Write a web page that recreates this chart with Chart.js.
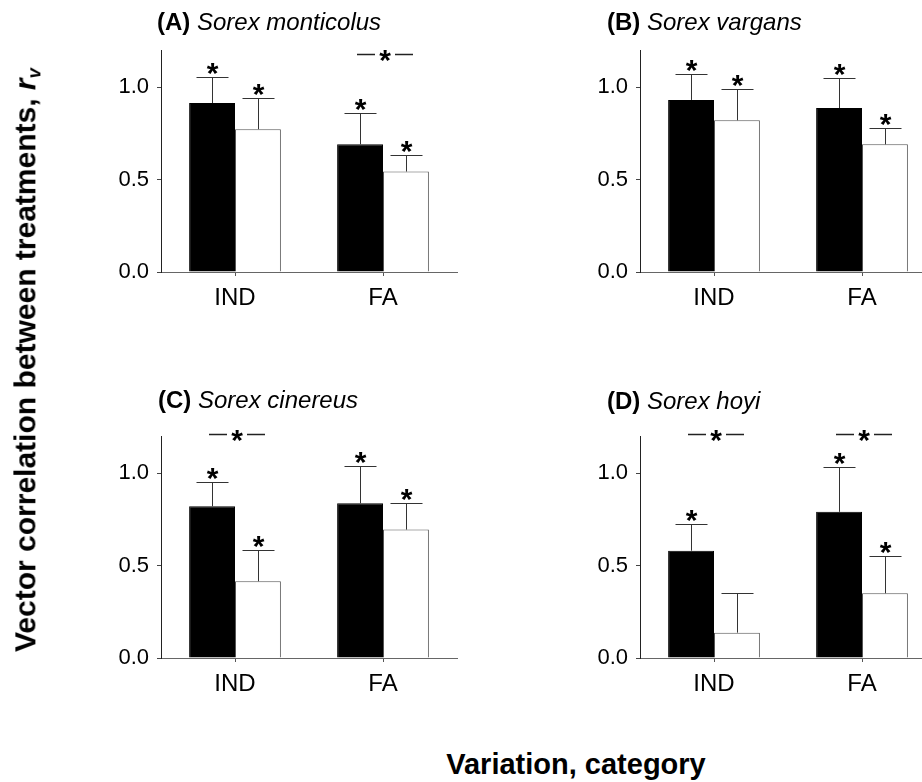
<!DOCTYPE html>
<html><head><meta charset="utf-8">
<script src="https://cdn.jsdelivr.net/npm/chart.js@4.4.0/dist/chart.umd.min.js"></script>
<style>
html,body{margin:0;padding:0;background:#fff;}
#wrap{position:relative;width:922px;height:782px;overflow:hidden;background:#fff;}
canvas{position:absolute;}
.axt{position:absolute;font-family:"Liberation Sans",Arial,sans-serif;font-weight:bold;color:#000;white-space:nowrap;line-height:1;}
.axt sub{font-size:0.62em;line-height:1;vertical-align:-0.25em;font-style:italic;}
</style></head><body>
<div id="wrap">
<canvas id="cA" width="470" height="330" style="left:0;top:0"></canvas>
<canvas id="cB" width="470" height="330" style="left:479px;top:0"></canvas>
<canvas id="cC" width="470" height="330" style="left:0;top:386px"></canvas>
<canvas id="cD" width="470" height="330" style="left:479px;top:386px"></canvas>
<div class="axt" id="ytitle" style="font-size:30px;left:27px;top:360px;transform:translate(-50%,-50%) rotate(-90deg);">Vector correlation between treatments, <i>r</i><sub>v</sub></div>
<div class="axt" id="xtitle" style="font-size:29px;left:576px;top:750px;transform:translate(-50%,0);">Variation, category</div>
</div>
<script>
// ---------- data ----------
const categories = ['IND', 'FA'];
const yTickValues = [0, 0.5, 1.0];

const panelLabels = ['(A)', '(B)', '(C)', '(D)'];
const speciesNames = ['Sorex monticolus', 'Sorex vargans', 'Sorex cinereus', 'Sorex hoyi'];

// black bars (first treatment) and white bars (second treatment)
const blackA = [0.913, 0.69],  blackErrA = [1.054, 0.86];
const whiteA = [0.772, 0.543], whiteErrA = [0.94, 0.63];
const blackB = [0.93, 0.886],  blackErrB = [1.07, 1.05];
const whiteB = [0.82, 0.69],   whiteErrB = [0.99, 0.78];
const blackC = [0.82, 0.836],  blackErrC = [0.95, 1.04];
const whiteC = [0.415, 0.694], whiteErrC = [0.585, 0.836];
const blackD = [0.58, 0.79],   blackErrD = [0.727, 1.03];
const whiteD = [0.137, 0.35],  whiteErrD = [0.35, 0.55];

// significance stars above each bar
const blackStarA = [true, true], whiteStarA = [true, true];
const blackStarB = [true, true], whiteStarB = [true, true];
const blackStarC = [true, true], whiteStarC = [true, true];
const blackStarD = [true, true], whiteStarD = [false, true];

// between-treatment difference markers (value level or null)
const sigA = [null, 1.18];
const sigB = [null, null];
const sigC = [1.21, null];
const sigD = [1.21, 1.21];

// ---------- drawing ----------
const FONT = '"Liberation Sans", Arial, sans-serif';

function drawStar(ctx, x, y, mode) {
  ctx.save();
  ctx.font = 'bold 30px ' + FONT;
  ctx.fillStyle = '#000';
  ctx.textAlign = 'center';
  ctx.textBaseline = 'alphabetic';
  const m = ctx.measureText('*');
  const A = m.actualBoundingBoxAscent, D = m.actualBoundingBoxDescent;
  let base;
  if (mode === 'bottom') base = y - D;        // glyph bottom at y
  else base = y - (D - A) / 2;               // glyph centred at y
  ctx.fillText('*', x, base);
  ctx.restore();
}

const panelPlugin = {
  id: 'panelPlugin',
  afterDatasetsDraw(chart) {
    const ctx = chart.ctx, ys = chart.scales.y, xs = chart.scales.x;
    const pc = chart.options.plugins.panelPlugin;
    ctx.save();
    chart.data.datasets.forEach((ds, di) => {
      const meta = chart.getDatasetMeta(di);
      meta.data.forEach((bar, i) => {
        const x = Math.round(bar.x) + 0.5;
        const yTop = bar.y;
        const yErr = Math.round(ys.getPixelForValue(ds.err[i])) + 0.5;
        ctx.strokeStyle = '#333';
        ctx.lineWidth = 1;
        ctx.beginPath();
        ctx.moveTo(x, yTop);
        ctx.lineTo(x, yErr);
        ctx.moveTo(x - 16, yErr);
        ctx.lineTo(x + 16, yErr);
        ctx.stroke();
        if (ds.stars[i]) drawStar(ctx, x, yErr - 3, 'bottom');
      });
    });
    pc.sig.forEach((lvl, i) => {
      if (lvl == null) return;
      const cx = xs.getPixelForValue(i) + 2;
      const y = Math.round(ys.getPixelForValue(lvl)) + 0.5;
      ctx.strokeStyle = '#222';
      ctx.lineWidth = 1.5;
      ctx.beginPath();
      ctx.moveTo(cx - 28, y); ctx.lineTo(cx - 10, y);
      ctx.moveTo(cx + 10, y); ctx.lineTo(cx + 28, y);
      ctx.stroke();
      drawStar(ctx, cx, y + 1, 'center');
    });
    // panel title
    ctx.fillStyle = '#000';
    ctx.textAlign = 'left';
    ctx.textBaseline = 'alphabetic';
    ctx.font = 'bold 24px ' + FONT;
    const lab = pc.label + ' ';
    ctx.fillText(lab, pc.titleX, pc.titleY);
    const w = ctx.measureText(lab).width;
    ctx.font = 'italic 24px ' + FONT;
    ctx.fillText(pc.name, pc.titleX + w, pc.titleY);
    ctx.restore();
  }
};

function makePanel(id, idx, black, blackErr, white, whiteErr, blackStar, whiteStar, sig, titleX, titleY) {
  new Chart(document.getElementById(id), {
    type: 'bar',
    data: {
      labels: categories,
      datasets: [
        { data: black, backgroundColor: '#000', borderColor: '#000', borderWidth: 1, err: blackErr, stars: blackStar },
        { data: white, backgroundColor: '#fff', borderColor: '#555', borderWidth: 1, err: whiteErr, stars: whiteStar }
      ]
    },
    options: {
      responsive: false,
      animation: false,
      devicePixelRatio: 1,
      events: [],
      layout: { padding: { top: 50, right: 13, bottom: 0, left: 0 } },
      datasets: { bar: { categoryPercentage: 0.62, barPercentage: 1.0 } },
      plugins: {
        legend: { display: false },
        tooltip: { enabled: false },
        panelPlugin: { label: panelLabels[idx], name: speciesNames[idx], sig: sig, titleX: titleX, titleY: titleY }
      },
      scales: {
        x: {
          type: 'category',
          offset: true,
          grid: { display: true, drawOnChartArea: false, drawTicks: true, tickLength: 4, offset: false, color: '#555' },
          border: { display: true, color: '#666', width: 1 },
          ticks: { color: '#000', font: { family: FONT, size: 24 }, padding: 8, maxRotation: 0 },
          afterFit: s => { s.height = 58; }
        },
        y: {
          min: 0, max: 1.2,
          grid: { display: true, drawOnChartArea: false, drawTicks: true, tickLength: 4, color: '#444' },
          border: { display: true, color: '#222', width: 1 },
          ticks: { color: '#000', font: { family: FONT, size: 22 }, padding: 8, callback: v => Number(v).toFixed(1) },
          afterBuildTicks: s => { s.ticks = yTickValues.map(v => ({ value: v })); },
          afterFit: s => { s.width = 161; }
        }
      }
    },
    plugins: [panelPlugin]
  });
}

makePanel('cA', 0, blackA, blackErrA, whiteA, whiteErrA, blackStarA, whiteStarA, sigA, 157, 30);
makePanel('cB', 1, blackB, blackErrB, whiteB, whiteErrB, blackStarB, whiteStarB, sigB, 128, 30);
makePanel('cC', 2, blackC, blackErrC, whiteC, whiteErrC, blackStarC, whiteStarC, sigC, 158, 22);
makePanel('cD', 3, blackD, blackErrD, whiteD, whiteErrD, blackStarD, whiteStarD, sigD, 128, 23);
</script>
</body></html>
